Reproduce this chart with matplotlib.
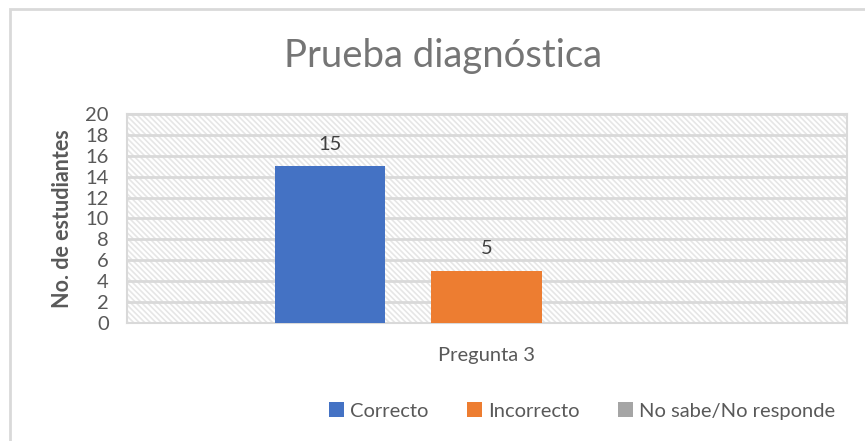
import matplotlib.pyplot as plt
from matplotlib.patches import Rectangle
import numpy as np

# Data
categories = ['Pregunta 3']
series = ['Correcto', 'Incorrecto', 'No sabe/No responde']
values = [15, 5, 0]
colors = ['#4472C4', '#ED7D31', '#A5A5A5']

plt.rcParams['font.family'] = ['Lato', 'DejaVu Sans']
plt.rcParams['hatch.color'] = '#e2e2e2'
plt.rcParams['hatch.linewidth'] = 1.2

fig = plt.figure(figsize=(8.65, 4.41), dpi=100)
ax = fig.add_axes([0.1468, 0.2676, 0.979 - 0.1468, 0.7415 - 0.2676])

# outer chart border (only left/top visible)
fig.patches.append(Rectangle((10 / 865, -0.1), 1.2, 1.1 - 9 / 441,
                             transform=fig.transFigure, fill=False,
                             edgecolor='#d9d9d9', linewidth=2))

# hatched plot area
ax.set_facecolor('white')
ax.add_patch(Rectangle((0, 0), 1, 1, transform=ax.transAxes, facecolor='white',
                       edgecolor='#e6e6e6', hatch='\\' * 6, linewidth=0, zorder=0))

x = np.arange(len(categories))
width = 0.154
offsets = [-0.218, 0.0, 0.218]
for name, val, col, off in zip(series, values, colors, offsets):
    ax.bar(x + off, [val], width, color=col, label=name, zorder=3)
    if val > 0:
        ax.text(x[0] + off, val + 1.3, str(val), ha='center', va='bottom',
                fontsize=14.5, color='#404040', zorder=4)

ax.set_xlim(-0.5, 0.5)
ax.set_ylim(0, 20)
ax.set_yticks(range(0, 21, 2))
ax.set_xticks(x)
ax.set_xticklabels(categories)
ax.yaxis.grid(True, color='#d9d9d9', linewidth=2, zorder=1)
ax.set_axisbelow(True)
ax.tick_params(axis='both', length=0, colors='#595959', labelsize=14.5)
ax.tick_params(axis='y', pad=13)
ax.tick_params(axis='x', pad=17)
for s in ax.spines.values():
    s.set_color('#d9d9d9')
    s.set_linewidth(1.5)

ax.set_ylabel('No. de estudiantes', fontsize=15.5, fontweight='bold',
              color='#595959', labelpad=9)
fig.text(0.512, 0.872, 'Prueba diagnóstica', ha='center', va='center',
         fontsize=27.5, color='#757575')

leg = fig.legend(loc='center', bbox_to_anchor=(0.673, 0.068), ncol=3, frameon=False,
                 fontsize=14.5, handlelength=0.75, handleheight=0.75,
                 handletextpad=0.3, columnspacing=1.9)
for t in leg.get_texts():
    t.set_color('#595959')

fig.savefig('out.png', dpi=100)
